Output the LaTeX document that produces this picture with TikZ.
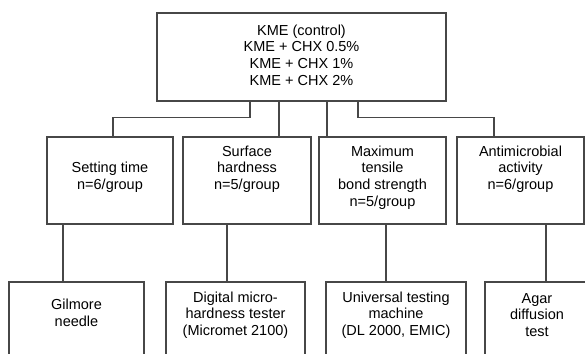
\documentclass[tikz,border=0pt]{standalone}
\usepackage{fontspec}
\setmainfont{Liberation Sans}
\begin{document}
\begin{tikzpicture}[x=1pt,y=-1pt,
  box/.style={draw=black!72,line width=1.1pt,inner sep=0pt,minimum height=#1},
  box/.default=87pt,
  txt/.style={align=center,inner sep=0pt,font=\fontsize{14.5}{16.7}\selectfont},
  conn/.style={draw=black!72,line width=1.1pt}]
\clip (0,0) rectangle (585,353);
\fill[white] (0,0) rectangle (585,353);
% top
\node[box=88pt,minimum width=289pt] (top) at (301.5,57) {};
\node[txt] (toptxt) at (301.5,55) {KME (control)\\KME + CHX 0.5\%\\KME + CHX 1\%\\KME + CHX 2\%};
% second row
\node[box,minimum width=126pt] (set) at (110,180.5) {};
\node[box,minimum width=128pt] (surf) at (247,180.5) {};
\node[box,minimum width=127pt] (max) at (382.5,180.5) {};
\node[box,minimum width=127pt] (anti) at (520.5,180.5) {};
\node[txt] (settxt) at (110,177.5) {Setting time\\n=6/group};
\node[txt] (surftxt) at (247,169) {Surface\\hardness\\n=5/group};
\node[txt] (maxtxt) at (382.5,177.5) {Maximum\\tensile\\bond strength\\n=5/group};
\node[txt] (antitxt) at (520.5,169) {Antimicrobial\\activity\\n=6/group};
% third row
\node[box=90pt,minimum width=135pt] (gil) at (76.5,327) {};
\node[box=90pt,minimum width=139pt] (dig) at (235.5,327) {};
\node[box=90pt,minimum width=140pt] (uni) at (396,327) {};
\node[box=90pt,minimum width=140pt] (agar) at (555,327) {};
\node[txt] (giltxt) at (76.5,312.5) {Gilmore\\needle};
\node[txt] (digtxt) at (235.5,315) {Digital micro-\\hardness tester\\(Micromet 2100)};
\node[txt] (unitxt) at (396,315) {Universal testing\\machine\\(DL 2000, EMIC)};
\node[txt] (agartxt) at (537,315) {Agar\\diffusion\\test};
% connectors top -> second row
\draw[conn] ([xshift=-51.5pt]top.south) -- ++(0,16) -| ([xshift=3pt]set.north);
\draw[conn] ([xshift=-22.5pt]top.south) -- ([xshift=-22.5pt]top.south |- surf.north);
\draw[conn] ([xshift=25.5pt]top.south) -- ([xshift=25.5pt]top.south |- max.north);
\draw[conn] ([xshift=56.5pt]top.south) -- ++(0,16) -| ([xshift=-26.5pt]anti.north);
% connectors second -> third row
\draw[conn] ([xshift=-47pt]set.south) -- ([xshift=-47pt]set.south |- gil.north);
\draw[conn] ([xshift=-20pt]surf.south) -- ([xshift=-20pt]surf.south |- dig.north);
\draw[conn] ([xshift=3.5pt]max.south) -- ([xshift=3.5pt]max.south |- uni.north);
\draw[conn] ([xshift=25.5pt]anti.south) -- ([xshift=25.5pt]anti.south |- agar.north);
\end{tikzpicture}
\end{document}
